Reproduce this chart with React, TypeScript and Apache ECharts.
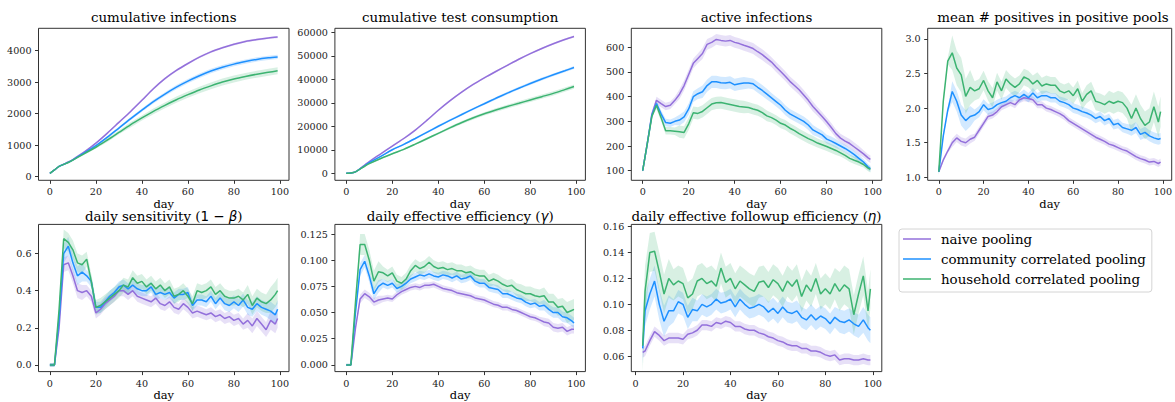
import React, { useEffect, useRef } from "react";
import * as echarts from "echarts";

// ---------------- data ----------------
const SERIES_NAMES = ["naive pooling", "community correlated pooling", "household correlated pooling"];

const DAYS_SMOOTH = [0, 2, 4, 6, 8, 10, 15, 20, 25, 30, 35, 40, 45, 50, 55, 60, 65, 70, 75, 80, 85, 90, 95, 99];
const DAYS = [0, 2, 4, 6, 8, 10, 12, 14, 16, 18, 20, 22, 24, 26, 28, 30, 32, 34, 36, 38, 40, 42, 44, 46, 48, 50, 52, 54, 56, 58, 60, 62, 64, 66, 68, 70, 72, 74, 76, 78, 80, 82, 84, 86, 88, 90, 92, 94, 96, 98, 99];
const DAYS_ETA = [3, 4, 6, 8, 10, 12, 14, 16, 18, 20, 22, 24, 26, 28, 30, 32, 34, 36, 38, 40, 42, 44, 46, 48, 50, 52, 54, 56, 58, 60, 62, 64, 66, 68, 70, 72, 74, 76, 78, 80, 82, 84, 86, 88, 90, 92, 94, 96, 98, 99];

const X_TICKS = [0, 20, 40, 60, 80, 100];

// cumulative infections
const INF_NAIVE = [100, 210, 320, 390, 460, 540, 780, 1060, 1380, 1720, 2060, 2420, 2790, 3110, 3370, 3590, 3790, 3960, 4090, 4200, 4290, 4350, 4400, 4430];
const INF_COMM = [100, 210, 320, 385, 450, 530, 750, 980, 1250, 1540, 1830, 2110, 2380, 2620, 2840, 3030, 3200, 3350, 3470, 3570, 3650, 3720, 3770, 3800];
const INF_HOUSE = [100, 210, 320, 385, 445, 520, 730, 930, 1160, 1400, 1640, 1860, 2070, 2260, 2440, 2600, 2750, 2880, 3000, 3100, 3180, 3250, 3310, 3360];
const INF_SPREAD_NAIVE = [10, 20, 25, 30, 35, 35, 35, 35, 35, 35, 35];
const INF_SPREAD_COMM = [10, 20, 30, 40, 50, 60, 65, 70, 70, 70, 70];
const INF_SPREAD_HOUSE = [10, 20, 40, 60, 80, 90, 100, 105, 110, 110, 110];
const INF_TICKS = [0, 1000, 2000, 3000, 4000];

// cumulative test consumption
const TEST_NAIVE = [0, 100, 600, 2000, 3500, 5000, 8300, 11600, 14800, 18400, 22500, 26800, 30800, 34400, 37700, 40600, 43300, 45900, 48500, 50900, 53100, 55100, 56900, 58200];
const TEST_COMM = [0, 100, 600, 1900, 3200, 4500, 7200, 10000, 12300, 14800, 17400, 20000, 22500, 24900, 27300, 29600, 31900, 34100, 36200, 38200, 40100, 41900, 43600, 45000];
const TEST_HOUSE = [0, 100, 600, 1800, 3000, 4100, 6300, 8300, 10200, 12400, 14700, 17000, 19300, 21500, 23500, 25300, 26900, 28400, 29800, 31200, 32600, 34000, 35600, 36900];
const TEST_SPREAD_NAIVE = [50, 200, 300, 400, 400, 400, 400, 400, 400, 400, 400];
const TEST_SPREAD_COMM = [50, 200, 300, 400, 500, 500, 500, 600, 600, 600, 600];
const TEST_SPREAD_HOUSE = [50, 200, 300, 400, 500, 600, 700, 800, 900, 900, 900];
const TEST_TICKS = [0, 10000, 20000, 30000, 40000, 50000, 60000];

// active infections
const ACT_NAIVE = [100, 210, 330, 385, 372, 360, 365, 385, 410, 445, 490, 535, 555, 575, 612, 620, 632, 628, 625, 628, 620, 615, 608, 602, 595, 582, 570, 555, 540, 520, 502, 483, 462, 445, 428, 407, 385, 360, 340, 320, 298, 275, 250, 232, 220, 210, 196, 182, 168, 152, 146];
const ACT_COMM = [100, 210, 325, 372, 330, 295, 292, 300, 305, 318, 350, 400, 412, 420, 445, 460, 460, 456, 455, 458, 448, 452, 455, 455, 452, 438, 425, 410, 395, 380, 365, 345, 330, 320, 310, 300, 285, 265, 255, 245, 228, 220, 210, 200, 190, 178, 165, 150, 135, 115, 108];
const ACT_HOUSE = [100, 210, 320, 365, 315, 262, 262, 260, 258, 255, 290, 335, 332, 340, 355, 370, 375, 376, 372, 368, 364, 360, 358, 356, 350, 345, 335, 322, 315, 305, 292, 285, 272, 262, 250, 240, 230, 222, 212, 205, 198, 190, 182, 172, 162, 150, 142, 135, 125, 110, 105];
const ACT_SPREAD_NAIVE = [5, 15, 20, 22, 22, 22, 20, 20, 18, 18, 15];
const ACT_SPREAD_COMM = [5, 15, 22, 25, 25, 22, 20, 20, 18, 15, 12];
const ACT_SPREAD_HOUSE = [5, 15, 25, 25, 25, 22, 20, 20, 18, 15, 12];
const ACT_TICKS = [100, 200, 300, 400, 500, 600];

// mean # positives in positive pools
const POS_NAIVE = [1.08, 1.25, 1.38, 1.5, 1.57, 1.52, 1.5, 1.55, 1.58, 1.68, 1.78, 1.88, 1.9, 1.95, 2.02, 2.05, 2.08, 2.05, 2.12, 2.15, 2.14, 2.12, 2.05, 2.05, 2.0, 1.98, 1.95, 1.92, 1.88, 1.82, 1.78, 1.74, 1.7, 1.66, 1.62, 1.58, 1.55, 1.52, 1.48, 1.46, 1.43, 1.4, 1.38, 1.34, 1.3, 1.27, 1.25, 1.22, 1.23, 1.2, 1.22];
const POS_COMM = [1.08, 1.6, 1.97, 2.24, 2.1, 1.9, 1.82, 1.88, 1.9, 1.95, 2.05, 1.98, 2.0, 2.05, 2.08, 2.1, 2.15, 2.18, 2.15, 2.2, 2.15, 2.22, 2.15, 2.18, 2.18, 2.15, 2.15, 2.1, 2.08, 2.05, 2.0, 1.98, 1.95, 1.93, 1.9, 1.85, 1.88, 1.82, 1.85, 1.76, 1.78, 1.72, 1.7, 1.68, 1.72, 1.62, 1.65, 1.6, 1.57, 1.55, 1.56];
const POS_HOUSE = [1.08, 2.1, 2.68, 2.8, 2.58, 2.48, 2.17, 2.3, 2.25, 2.28, 2.4, 2.25, 2.15, 2.38, 2.25, 2.42, 2.35, 2.3, 2.35, 2.45, 2.42, 2.35, 2.4, 2.32, 2.35, 2.33, 2.33, 2.25, 2.22, 2.25, 2.18, 2.28, 2.1, 2.2, 2.25, 2.1, 2.08, 2.05, 2.1, 2.07, 2.1, 2.08, 2.0, 1.85, 2.0, 1.85, 1.75, 1.8, 2.02, 1.8, 1.95];
const POS_SPREAD_NAIVE = [0.03, 0.06, 0.05, 0.05, 0.05, 0.05, 0.05, 0.05, 0.05, 0.05, 0.05];
const POS_SPREAD_COMM = [0.04, 0.15, 0.08, 0.07, 0.07, 0.07, 0.07, 0.07, 0.07, 0.08, 0.08];
const POS_SPREAD_HOUSE = [0.05, 0.25, 0.14, 0.13, 0.12, 0.12, 0.12, 0.13, 0.15, 0.2, 0.22];
const POS_TICKS = [1.0, 1.5, 2.0, 2.5, 3.0];

// daily sensitivity
const SENS_NAIVE = [0, 0, 0.2, 0.54, 0.55, 0.48, 0.4, 0.39, 0.4, 0.37, 0.28, 0.3, 0.33, 0.35, 0.37, 0.4, 0.4, 0.38, 0.4, 0.37, 0.36, 0.35, 0.34, 0.36, 0.33, 0.32, 0.34, 0.31, 0.3, 0.33, 0.31, 0.28, 0.29, 0.28, 0.27, 0.28, 0.26, 0.27, 0.25, 0.26, 0.24, 0.25, 0.22, 0.24, 0.21, 0.25, 0.22, 0.19, 0.24, 0.22, 0.25];
const SENS_COMM = [0, 0, 0.25, 0.6, 0.64, 0.55, 0.48, 0.5, 0.48, 0.45, 0.31, 0.31, 0.34, 0.37, 0.39, 0.42, 0.43, 0.41, 0.43, 0.41, 0.4, 0.4, 0.42, 0.38, 0.39, 0.38, 0.39, 0.36, 0.38, 0.38, 0.39, 0.32, 0.35, 0.35, 0.34, 0.37, 0.33, 0.36, 0.33, 0.32, 0.34, 0.32, 0.35, 0.31, 0.3, 0.33, 0.31, 0.3, 0.29, 0.27, 0.3];
const SENS_HOUSE = [0, 0, 0.3, 0.68, 0.66, 0.62, 0.55, 0.54, 0.57, 0.45, 0.31, 0.32, 0.34, 0.36, 0.38, 0.4, 0.43, 0.42, 0.47, 0.44, 0.45, 0.42, 0.44, 0.41, 0.43, 0.4, 0.42, 0.37, 0.38, 0.4, 0.37, 0.33, 0.4, 0.39, 0.4, 0.42, 0.38, 0.4, 0.37, 0.36, 0.36, 0.37, 0.35, 0.38, 0.32, 0.36, 0.34, 0.33, 0.35, 0.38, 0.4];
const SENS_SPREAD_NAIVE = [0.01, 0.04, 0.03, 0.03, 0.03, 0.03, 0.03, 0.03, 0.03, 0.04, 0.05];
const SENS_SPREAD_COMM = [0.01, 0.05, 0.03, 0.03, 0.03, 0.03, 0.03, 0.03, 0.035, 0.04, 0.05];
const SENS_SPREAD_HOUSE = [0.01, 0.05, 0.04, 0.04, 0.04, 0.04, 0.04, 0.04, 0.04, 0.05, 0.07];
const SENS_TICKS = [0.0, 0.2, 0.4, 0.6];

// daily effective efficiency
const EFF_NAIVE = [0, 0, 0.035, 0.063, 0.068, 0.065, 0.06, 0.062, 0.063, 0.064, 0.063, 0.067, 0.07, 0.072, 0.074, 0.075, 0.074, 0.076, 0.076, 0.077, 0.075, 0.073, 0.072, 0.071, 0.069, 0.068, 0.067, 0.066, 0.064, 0.063, 0.062, 0.06, 0.058, 0.057, 0.055, 0.055, 0.053, 0.052, 0.05, 0.048, 0.046, 0.045, 0.043, 0.041, 0.04, 0.036, 0.035, 0.036, 0.032, 0.034, 0.034];
const EFF_COMM = [0, 0, 0.05, 0.091, 0.099, 0.085, 0.068, 0.075, 0.078, 0.076, 0.078, 0.073, 0.075, 0.078, 0.082, 0.084, 0.086, 0.085, 0.087, 0.085, 0.084, 0.086, 0.085, 0.083, 0.085, 0.082, 0.083, 0.085, 0.08, 0.078, 0.078, 0.074, 0.073, 0.072, 0.068, 0.068, 0.066, 0.064, 0.063, 0.06, 0.058, 0.059, 0.056, 0.057, 0.053, 0.05, 0.05, 0.046, 0.045, 0.042, 0.04];
const EFF_HOUSE = [0, 0, 0.06, 0.115, 0.115, 0.1, 0.08, 0.089, 0.088, 0.085, 0.088, 0.08, 0.078, 0.082, 0.09, 0.095, 0.092, 0.094, 0.098, 0.094, 0.092, 0.093, 0.091, 0.092, 0.09, 0.09, 0.088, 0.089, 0.086, 0.085, 0.085, 0.08, 0.082, 0.08, 0.077, 0.075, 0.076, 0.072, 0.07, 0.068, 0.068, 0.066, 0.065, 0.066, 0.06, 0.06, 0.055, 0.056, 0.05, 0.052, 0.053];
const EFF_SPREAD_NAIVE = [0.001, 0.004, 0.003, 0.003, 0.003, 0.003, 0.003, 0.003, 0.003, 0.004, 0.004];
const EFF_SPREAD_COMM = [0.001, 0.006, 0.004, 0.004, 0.004, 0.004, 0.004, 0.004, 0.004, 0.005, 0.005];
const EFF_SPREAD_HOUSE = [0.001, 0.01, 0.006, 0.006, 0.006, 0.006, 0.006, 0.006, 0.007, 0.008, 0.01];
const EFF_TICKS = [0.0, 0.025, 0.05, 0.075, 0.1, 0.125];

// daily effective followup efficiency
const ETA_NAIVE = [0.063, 0.064, 0.072, 0.079, 0.076, 0.072, 0.074, 0.074, 0.074, 0.073, 0.077, 0.078, 0.08, 0.084, 0.084, 0.083, 0.086, 0.085, 0.087, 0.086, 0.083, 0.083, 0.081, 0.08, 0.08, 0.078, 0.077, 0.075, 0.074, 0.072, 0.071, 0.069, 0.068, 0.068, 0.066, 0.066, 0.064, 0.064, 0.063, 0.061, 0.06, 0.061, 0.057, 0.058, 0.058, 0.057, 0.057, 0.058, 0.057, 0.057];
const ETA_COMM = [0.066, 0.095, 0.108, 0.118, 0.1, 0.087, 0.095, 0.095, 0.102, 0.1, 0.09, 0.096, 0.095, 0.1, 0.098, 0.1, 0.104, 0.101, 0.102, 0.104, 0.098, 0.104, 0.1, 0.097, 0.098, 0.1, 0.098, 0.094, 0.097, 0.093, 0.098, 0.094, 0.093, 0.095, 0.09, 0.088, 0.092, 0.088, 0.091, 0.089, 0.085, 0.09, 0.087, 0.086, 0.088, 0.085, 0.083, 0.088, 0.082, 0.08];
const ETA_HOUSE = [0.068, 0.11, 0.14, 0.141, 0.125, 0.108, 0.12, 0.115, 0.118, 0.116, 0.105, 0.108, 0.118, 0.12, 0.116, 0.118, 0.114, 0.128, 0.117, 0.12, 0.112, 0.118, 0.115, 0.112, 0.11, 0.117, 0.118, 0.113, 0.119, 0.116, 0.11, 0.118, 0.114, 0.119, 0.106, 0.115, 0.11, 0.12, 0.108, 0.112, 0.108, 0.116, 0.11, 0.115, 0.112, 0.092, 0.108, 0.122, 0.095, 0.112];
const ETA_SPREAD_NAIVE = [0.004, 0.004, 0.004, 0.004, 0.004, 0.004, 0.004, 0.004, 0.004, 0.004, 0.004];
const ETA_SPREAD_COMM = [0.012, 0.012, 0.009, 0.008, 0.008, 0.008, 0.008, 0.008, 0.008, 0.009, 0.01];
const ETA_SPREAD_HOUSE = [0.02, 0.015, 0.012, 0.012, 0.012, 0.012, 0.012, 0.012, 0.012, 0.015, 0.015];
const ETA_TICKS = [0.06, 0.08, 0.1, 0.12, 0.14, 0.16];

// ---------------- styling / layout ----------------
const FONT = "DejaVu Serif";
const COLORS = ["#9370DB", "#1E90FF", "#3CB371"];
const BAND_FILL = ["rgba(147,112,219,0.22)", "rgba(30,144,255,0.2)", "rgba(60,179,113,0.2)"];
const SPINE = "#333";
const W = 250.5;
const H = 152;
const COL_LEFT = [38.5, 334.9, 631.3, 927.7];
const ROW_TOP = [28.3, 224.4];
const TITLE_Y = [17.5, 216];

type Panel = {
  title: string;
  days: number[];
  values: number[][];
  spreads: number[][];
  yTicks: number[];
  decimals: number;
  yMin: number;
  yMax: number;
  xMin: number;
  xMax: number;
  smooth: boolean;
  col: number;
  row: number;
};

const PANELS: Panel[] = [
  { title: "cumulative infections", days: DAYS_SMOOTH, values: [INF_NAIVE, INF_COMM, INF_HOUSE], spreads: [INF_SPREAD_NAIVE, INF_SPREAD_COMM, INF_SPREAD_HOUSE], yTicks: INF_TICKS, decimals: 0, yMin: -120, yMax: 4708, xMin: -4.95, xMax: 103.95, smooth: true, col: 0, row: 0 },
  { title: "cumulative test consumption", days: DAYS_SMOOTH, values: [TEST_NAIVE, TEST_COMM, TEST_HOUSE], spreads: [TEST_SPREAD_NAIVE, TEST_SPREAD_COMM, TEST_SPREAD_HOUSE], yTicks: TEST_TICKS, decimals: 0, yMin: -2980, yMax: 61680, xMin: -4.95, xMax: 103.95, smooth: true, col: 1, row: 0 },
  { title: "active infections", days: DAYS, values: [ACT_NAIVE, ACT_COMM, ACT_HOUSE], spreads: [ACT_SPREAD_NAIVE, ACT_SPREAD_COMM, ACT_SPREAD_HOUSE], yTicks: ACT_TICKS, decimals: 0, yMin: 61, yMax: 677, xMin: -4.95, xMax: 103.95, smooth: false, col: 2, row: 0 },
  { title: "mean # positives in positive pools", days: DAYS, values: [POS_NAIVE, POS_COMM, POS_HOUSE], spreads: [POS_SPREAD_NAIVE, POS_SPREAD_COMM, POS_SPREAD_HOUSE], yTicks: POS_TICKS, decimals: 1, yMin: 0.957, yMax: 3.154, xMin: -4.95, xMax: 103.95, smooth: false, col: 3, row: 0 },
  { title: "daily sensitivity ({m|1 − }{mi|β})", days: DAYS, values: [SENS_NAIVE, SENS_COMM, SENS_HOUSE], spreads: [SENS_SPREAD_NAIVE, SENS_SPREAD_COMM, SENS_SPREAD_HOUSE], yTicks: SENS_TICKS, decimals: 1, yMin: -0.036, yMax: 0.757, xMin: -4.95, xMax: 103.95, smooth: false, col: 0, row: 1 },
  { title: "daily effective efficiency ({mi|γ})", days: DAYS, values: [EFF_NAIVE, EFF_COMM, EFF_HOUSE], spreads: [EFF_SPREAD_NAIVE, EFF_SPREAD_COMM, EFF_SPREAD_HOUSE], yTicks: EFF_TICKS, decimals: 3, yMin: -0.0064, yMax: 0.1342, xMin: -4.95, xMax: 103.95, smooth: false, col: 1, row: 1 },
  { title: "daily effective followup efficiency ({mi|η})", days: DAYS_ETA, values: [ETA_NAIVE, ETA_COMM, ETA_HOUSE], spreads: [ETA_SPREAD_NAIVE, ETA_SPREAD_COMM, ETA_SPREAD_HOUSE], yTicks: ETA_TICKS, decimals: 2, yMin: 0.0481, yMax: 0.1617, xMin: -1.8, xMax: 103.8, smooth: false, col: 2, row: 1 },
];

function bandRows(days: number[], vals: number[], spread: number[]) {
  return days.map((d, i) => {
    const s = spread[Math.min(10, Math.round(d / 10))];
    return [d, vals[i] - s, vals[i] + s];
  });
}

function buildOption() {
  const grid: any[] = [];
  const xAxis: any[] = [];
  const yAxis: any[] = [];
  const series: any[] = [];
  const graphic: any[] = [];

  PANELS.forEach((p, i) => {
    const left = COL_LEFT[p.col];
    const top = ROW_TOP[p.row];
    grid.push({ left, top, width: W, height: H, show: true, borderColor: SPINE, borderWidth: 1, backgroundColor: "transparent", containLabel: false });
    xAxis.push({
      type: "value", gridIndex: i, min: p.xMin, max: p.xMax,
      axisLine: { show: false, onZero: false },
      axisTick: { show: true, inside: false, length: 3.5, lineStyle: { color: SPINE, width: 1 }, customValues: X_TICKS },
      axisLabel: { show: true, margin: 6.5, fontFamily: FONT, fontSize: 9.6, color: "#222", customValues: X_TICKS, formatter: (v: number) => String(Math.round(v)) },
      splitLine: { show: false },
      name: "day", nameLocation: "middle", nameGap: 12,
      nameTextStyle: { fontFamily: FONT, fontSize: 11.5, color: "#000", lineHeight: 12 },
    });
    yAxis.push({
      type: "value", gridIndex: i, min: p.yMin, max: p.yMax,
      axisLine: { show: false, onZero: false },
      axisTick: { show: true, inside: false, length: 3.5, lineStyle: { color: SPINE, width: 1 }, customValues: p.yTicks },
      axisLabel: { show: true, margin: 7, fontFamily: FONT, fontSize: 9.6, color: "#222", customValues: p.yTicks, formatter: (v: number) => Number(v).toFixed(p.decimals) },
      splitLine: { show: false },
    });

    p.values.forEach((vals, j) => {
      const rows = bandRows(p.days, vals, p.spreads[j]);
      series.push({
        type: "custom", coordinateSystem: "cartesian2d", xAxisIndex: i, yAxisIndex: i,
        silent: true, z: 2, clip: true, data: rows, encode: { x: 0, y: [1, 2] },
        renderItem: (params: any, api: any) => {
          if (params.dataIndex !== 0) return null;
          const pts: number[][] = rows.map((r) => api.coord([r[0], r[2]]));
          for (let k = rows.length - 1; k >= 0; k--) pts.push(api.coord([rows[k][0], rows[k][1]]));
          return { type: "polygon", shape: { points: pts }, style: { fill: BAND_FILL[j], stroke: "none" }, silent: true };
        },
      });
    });
    p.values.forEach((vals, j) => {
      series.push({
        type: "line", name: SERIES_NAMES[j], xAxisIndex: i, yAxisIndex: i,
        data: p.days.map((d, k) => [d, vals[k]]),
        showSymbol: false, symbol: "none", smooth: p.smooth ? 0.3 : false,
        color: COLORS[j], lineStyle: { color: COLORS[j], width: 1.5 },
        z: 3, clip: true, silent: true,
      });
    });

    graphic.push({
      type: "text", x: left + W / 2, y: TITLE_Y[p.row], silent: true,
      style: {
        text: p.title,
        font: `13.4px "${FONT}"`, fontFamily: FONT, fontSize: 13.4, lineHeight: 14,
        fill: "#000", align: "center", verticalAlign: "middle", textAlign: "center", textVerticalAlign: "middle",
        rich: {
          m: { fontFamily: "DejaVu Sans", fontSize: 13.4, lineHeight: 14, fill: "#000", color: "#000" },
          mi: { fontFamily: "DejaVu Sans", fontStyle: "italic", fontSize: 13.4, lineHeight: 14, fill: "#000", color: "#000" },
        },
      },
    });
  });

  return {
    animation: false,
    backgroundColor: "#fff",
    grid, xAxis, yAxis, series, graphic,
    legend: {
      data: SERIES_NAMES, orient: "vertical", left: 899, top: 229,
      icon: "rect", itemWidth: 28, itemHeight: 1.5, itemGap: 0,
      padding: [0, 6, 3, 4], selectedMode: false,
      backgroundColor: "#fff", borderColor: "#d4d4d4", borderWidth: 1, borderRadius: 3,
      textStyle: { fontFamily: FONT, fontSize: 13.4, color: "#000", lineHeight: 20, padding: [0, 0, 0, 5] },
    },
  };
}

export default function App() {
  const ref = useRef<HTMLDivElement>(null);
  useEffect(() => {
    if (!ref.current) return;
    const chart = echarts.init(ref.current, undefined, { renderer: "svg" });
    chart.setOption(buildOption() as any);
    return () => chart.dispose();
  }, []);
  return <div ref={ref} style={{ position: "absolute", left: 0, top: 0, width: 1175, height: 402, background: "#fff" }} />;
}
